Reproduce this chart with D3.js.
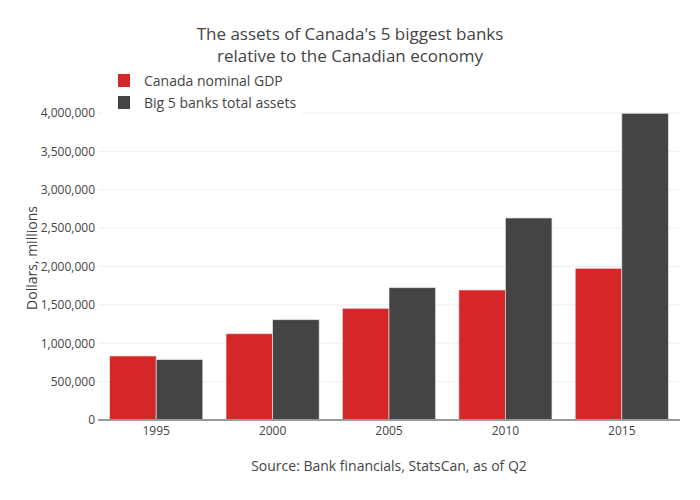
<!DOCTYPE html>
<html>
<head>
<meta charset="utf-8">
<script src="https://cdn.jsdelivr.net/npm/d3@7"></script>
<style>
  body { margin: 0; background: #fff; }
  text { font-family: "Open Sans", sans-serif; fill: #444; }
</style>
</head>
<body>
<svg id="chart" width="700" height="500"></svg>
<script>
const years = ["1995", "2000", "2005", "2010", "2015"];
const seriesNames = ["Canada nominal GDP", "Big 5 banks total assets"];
const gdp = [834000, 1124000, 1455000, 1694000, 1976000];
const assets = [787000, 1307000, 1724000, 2632000, 3996000];
const colors = ["#d62728", "#444444"];
const yTicks = [0, 500000, 1000000, 1500000, 2000000, 2500000, 3000000, 3500000, 4000000];

const margin = { left: 98, right: 20, top: 113, bottom: 80 };
const W = 700, H = 500;

const svg = d3.select("#chart");

const x = d3.scaleBand()
    .domain(years)
    .range([margin.left, W - margin.right])
    .paddingInner(0.2)
    .paddingOuter(0.1);

const xSub = d3.scaleBand()
    .domain(seriesNames)
    .range([0, x.bandwidth()]);

const y = d3.scaleLinear()
    .domain([0, 4000000])
    .range([H - margin.bottom, margin.top]);

// gridlines
svg.append("g")
    .selectAll("line")
    .data(yTicks.slice(1))
    .join("line")
    .attr("x1", margin.left)
    .attr("x2", W - margin.right)
    .attr("y1", d => y(d))
    .attr("y2", d => y(d))
    .attr("stroke", "#eee")
    .attr("stroke-width", 1);

// y tick labels
const yAxis = d3.axisLeft(y)
    .tickValues(yTicks)
    .tickFormat(d3.format(","))
    .tickSize(0)
    .tickPadding(3);
const gy = svg.append("g")
    .attr("transform", `translate(${margin.left},0)`)
    .call(yAxis);
gy.select(".domain").remove();
gy.selectAll("text").style("font-size", "12px").attr("fill", "#444");

// bars
const data = years.map((yr, i) => ({ year: yr, values: [gdp[i], assets[i]] }));
svg.append("g")
    .selectAll("g")
    .data(data)
    .join("g")
    .attr("transform", d => `translate(${x(d.year)},0)`)
    .selectAll("rect")
    .data(d => d.values.map((v, j) => ({ name: seriesNames[j], value: v, color: colors[j] })))
    .join("rect")
    .attr("x", d => xSub(d.name))
    .attr("width", xSub.bandwidth())
    .attr("y", d => y(d.value))
    .attr("height", d => y(0) - y(d.value))
    .attr("fill", d => d.color)
    .attr("stroke", "rgba(230,230,230,0.8)")
    .attr("stroke-width", 0.8);

// zero line
svg.append("line")
    .attr("x1", margin.left)
    .attr("x2", W - margin.right)
    .attr("y1", y(0))
    .attr("y2", y(0))
    .attr("stroke", "#999")
    .attr("stroke-width", 2);

// x axis labels
const xAxis = d3.axisBottom(x).tickSize(0).tickPadding(6);
const gx = svg.append("g")
    .attr("transform", `translate(0,${y(0)})`)
    .call(xAxis);
gx.select(".domain").remove();
gx.selectAll("text").style("font-size", "12px").attr("fill", "#444");

// titles
const title = svg.append("text")
    .attr("text-anchor", "middle")
    .style("font-size", "17px");
title.append("tspan").attr("x", 350).attr("y", 40)
    .text("The assets of Canada's 5 biggest banks");
title.append("tspan").attr("x", 350).attr("y", 62)
    .text("relative to the Canadian economy");

svg.append("text")
    .attr("x", (margin.left + W - margin.right) / 2)
    .attr("y", 471)
    .attr("text-anchor", "middle")
    .style("font-size", "14px")
    .text("Source: Bank financials, StatsCan, as of Q2");

svg.append("text")
    .attr("transform", "translate(37,258) rotate(-90)")
    .attr("text-anchor", "middle")
    .style("font-size", "14px")
    .text("Dollars, millions");

// legend
const legend = svg.append("g");
legend.append("rect")
    .attr("x", 103).attr("y", 68)
    .attr("width", 199).attr("height", 50)
    .attr("fill", "#fff");
const item = legend.selectAll("g")
    .data(seriesNames)
    .join("g")
    .attr("transform", (d, i) => `translate(118,${80.5 + i * 22})`);
item.append("rect")
    .attr("x", 0).attr("y", -6.5)
    .attr("width", 12).attr("height", 13)
    .attr("fill", (d, i) => colors[i]);
item.append("text")
    .attr("x", 26).attr("y", 5)
    .style("font-size", "14px")
    .text(d => d);
</script>
</body>
</html>
